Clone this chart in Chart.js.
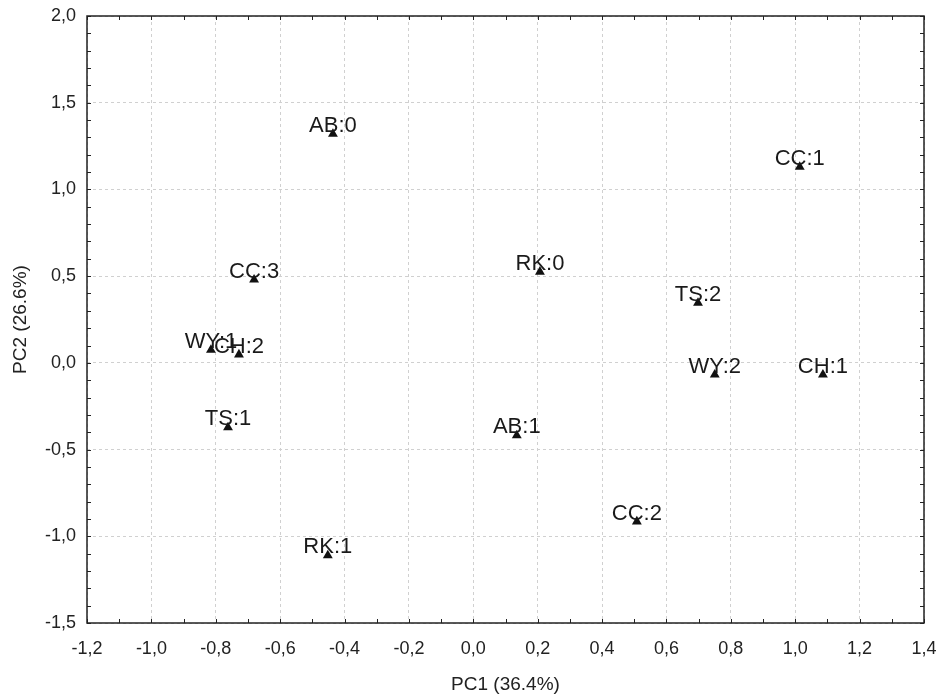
<!DOCTYPE html>
<html lang="en">
<head>
<meta charset="UTF-8">
<title>PCA scores</title>
<script src="https://cdn.jsdelivr.net/npm/chart.js@4.4.0/dist/chart.umd.min.js"></script>
<style>
  html, body { margin: 0; padding: 0; background: #fff; }
  #wrap { width: 940px; height: 696px; position: relative; }
</style>
</head>
<body>
<div id="wrap"><canvas id="pcaChart"></canvas></div>
<script>
// sample labels and their scores on the first two components
const sampleLabels = ["AB:0", "CC:1", "CC:3", "RK:0", "TS:2", "WY:1", "CH:2", "WY:2", "CH:1", "TS:1", "AB:1", "CC:2", "RK:1"];
const pc1 = [-0.436, 1.014, -0.681, 0.207, 0.698, -0.815, -0.728, 0.750, 1.086, -0.762, 0.135, 0.508, -0.452];
const pc2 = [1.32, 1.13, 0.48, 0.525, 0.345, 0.075, 0.048, -0.068, -0.068, -0.372, -0.418, -0.915, -1.11];

// axis ranges (major / minor steps)
const xRange = [-1.2, 1.4];
const yRange = [-1.5, 2.0];
const xMajor = 0.2, yMajor = 0.5, minorStep = 0.1;

const fmt = v => (Math.round(v * 10) / 10).toFixed(1).replace(".", ",").replace("-0,0", "0,0");
const FONT = "'Liberation Sans', Arial, sans-serif";

// frame + inward ticks on all four sides
const frameTicks = {
  id: "frameTicks",
  afterDraw(chart) {
    const { ctx, chartArea: a, scales: { x, y } } = chart;
    ctx.save();
    ctx.strokeStyle = "#222";
    ctx.lineWidth = 1;
    const n = Math.round((xRange[1] - xRange[0]) / minorStep);
    for (let i = 0; i <= n; i++) {
      const px = Math.round(x.getPixelForValue(xRange[0] + i * minorStep)) + 0.5;
      ctx.beginPath();
      ctx.moveTo(px, a.bottom); ctx.lineTo(px, a.bottom - 4);
      ctx.moveTo(px, a.top); ctx.lineTo(px, a.top + 4);
      ctx.stroke();
    }
    const m = Math.round((yRange[1] - yRange[0]) / minorStep);
    for (let i = 0; i <= m; i++) {
      const py = Math.round(y.getPixelForValue(yRange[0] + i * minorStep)) + 0.5;
      ctx.beginPath();
      ctx.moveTo(a.left, py); ctx.lineTo(a.left + 4, py);
      ctx.moveTo(a.right, py); ctx.lineTo(a.right - 4, py);
      ctx.stroke();
    }
    ctx.lineWidth = 1.5;
    ctx.strokeRect(a.left, a.top, a.right - a.left, a.bottom - a.top);
    ctx.restore();
  }
};

// text labels just above each marker
const pointLabels = {
  id: "pointLabels",
  afterDatasetsDraw(chart) {
    const { ctx } = chart;
    const meta = chart.getDatasetMeta(0);
    ctx.save();
    ctx.fillStyle = "#1a1a1a";
    ctx.font = "22px " + FONT;
    ctx.textAlign = "center";
    ctx.textBaseline = "alphabetic";
    meta.data.forEach((pt, i) => {
      ctx.fillText(sampleLabels[i], pt.x, pt.y - 2);
    });
    ctx.restore();
  }
};

// no label-overflow padding; the layout padding alone places the plot box
const noPad = s => { s.paddingLeft = 0; s.paddingRight = 0; s.paddingTop = 0; s.paddingBottom = 0; };

new Chart(document.getElementById("pcaChart"), {
  type: "scatter",
  data: {
    datasets: [{
      data: pc1.map((v, i) => ({ x: v, y: pc2[i] })),
      pointStyle: "triangle",
      pointRadius: 5.7,
      backgroundColor: "#111",
      borderColor: "#111",
      borderWidth: 0
    }]
  },
  options: {
    responsive: true,
    maintainAspectRatio: false,
    animation: false,
    layout: { padding: { top: 16, right: 16, left: 0, bottom: 0 } },
    plugins: {
      legend: { display: false },
      tooltip: { enabled: false }
    },
    scales: {
      x: {
        type: "linear",
        min: xRange[0],
        max: xRange[1],
        border: { display: false, dash: [3, 3] },
        grid: { color: "#d0d0d0", lineWidth: 1, drawTicks: false },
        ticks: {
          stepSize: xMajor,
          padding: 15,
          color: "#222",
          font: { size: 18, family: FONT },
          callback: v => fmt(v),
          maxRotation: 0,
          autoSkip: false
        },
        title: {
          display: true,
          text: "PC1 (36.4%)",
          color: "#222",
          font: { size: 19, family: FONT },
          padding: { top: 0, bottom: 0 }
        },
        afterFit: s => { s.height = 73; noPad(s); }
      },
      y: {
        type: "linear",
        min: yRange[0],
        max: yRange[1],
        border: { display: false, dash: [3, 3] },
        grid: { color: "#d0d0d0", lineWidth: 1, drawTicks: false },
        ticks: {
          stepSize: yMajor,
          padding: 11,
          color: "#222",
          font: { size: 18, family: FONT },
          callback: v => fmt(v),
          autoSkip: false
        },
        title: {
          display: true,
          text: "PC2 (26.6%)",
          color: "#222",
          font: { size: 19, family: FONT },
          padding: { top: 9, bottom: 0 }
        },
        afterFit: s => { s.width = 87; noPad(s); }
      }
    }
  },
  plugins: [frameTicks, pointLabels]
});
</script>
</body>
</html>
